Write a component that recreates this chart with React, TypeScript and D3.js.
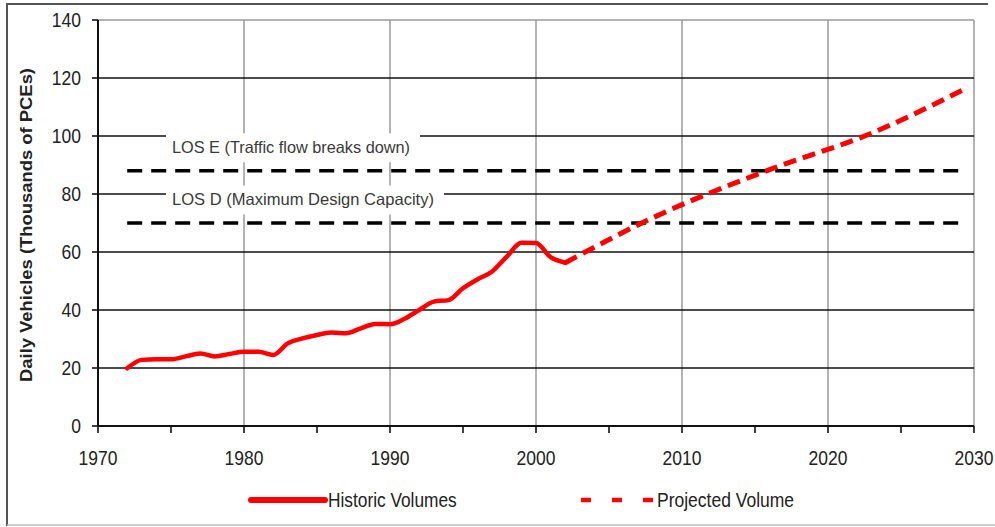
import React from 'react';
import * as d3 from 'd3';

const histYears = [1972, 1973, 1974, 1975, 1976, 1977, 1978, 1979, 1980, 1981, 1982, 1983, 1984, 1985, 1986, 1987, 1988, 1989, 1990, 1991, 1992, 1993, 1994, 1995, 1996, 1997, 1998, 1999, 2000, 2001, 2002];
const histValues = [19.9, 22.8, 23, 23, 24, 25, 24, 24.8, 25.6, 25.6, 24.5, 28.5, 30.2, 31.4, 32.2, 32, 33.7, 35.2, 35.1, 37, 40, 42.9, 43.4, 47.5, 50.6, 53.3, 58.4, 63.2, 63.1, 58.2, 56.3];
const projYears = [2002, 2008, 2016, 2023, 2029.6];
const projValues = [56.3, 71.8, 88.4, 101, 116.8];

const losLevels = [88, 70];
const losStart = [1972, 1972];
const losEnd = [2029.2, 2029.2];
const losLabels = ['LOS E (Traffic flow breaks down)', 'LOS D (Maximum Design Capacity)'];

const xTicks = [1970, 1980, 1990, 2000, 2010, 2020, 2030];
const xMinorTicks = [1970, 1975, 1980, 1985, 1990, 1995, 2000, 2005, 2010, 2015, 2020, 2025, 2030];
const yTicks = [0, 20, 40, 60, 80, 100, 120, 140];

const legendLabels = ['Historic Volumes', 'Projected Volume'];

const FONT = '"Liberation Sans", Arial, Helvetica, sans-serif';

export default function App() {
  const x = d3.scaleLinear().domain([1970, 2030]).range([98, 974]);
  const y = d3.scaleLinear().domain([0, 140]).range([426, 20]);

  const histLine = d3.line<number>()
    .x((_, i) => x(histYears[i]))
    .y((d) => y(d))
    .curve(d3.curveMonotoneX);
  const projLine = d3.line<number>()
    .x((_, i) => x(projYears[i]))
    .y((d) => y(d))
    .curve(d3.curveMonotoneX);

  const labelW = [244, 268];
  const legendDashes = [581, 612, 643];

  return (
    <div style={{ position: 'fixed', left: 0, top: 0 }}>
      <svg width={995} height={527} style={{ display: 'block', background: '#fff' }}>
        {/* outer frame */}
        <line x1={7} y1={4} x2={988} y2={4} stroke="#555" strokeWidth={2} />
        <line x1={7} y1={3} x2={7} y2={526} stroke="#555" strokeWidth={2} />
        <line x1={7} y1={525} x2={995} y2={525} stroke="#bbb" strokeWidth={1.5} />

        {/* vertical gridlines */}
        {xTicks.slice(1).map((t) => (
          <line key={'vg' + t} x1={x(t)} x2={x(t)} y1={y(140)} y2={y(0)} stroke="#9a9a9a" strokeWidth={1.5} />
        ))}
        {/* horizontal gridlines */}
        {yTicks.slice(1).map((t) => (
          <line key={'hg' + t} x1={x(1970)} x2={x(2030)} y1={y(t)} y2={y(t)}
            stroke={t === 140 ? '#9a9a9a' : '#111'} strokeWidth={t === 140 ? 1.5 : 1.6} />
        ))}
        {/* y ticks */}
        {yTicks.map((t) => (
          <line key={'yt' + t} x1={92} x2={x(1970)} y1={y(t)} y2={y(t)} stroke="#111" strokeWidth={1.6} />
        ))}
        {/* axes */}
        <line x1={x(1970)} x2={x(1970)} y1={y(140)} y2={y(0)} stroke="#111" strokeWidth={2} />
        <line x1={x(1970)} x2={x(2030)} y1={y(0)} y2={y(0)} stroke="#111" strokeWidth={2} />
        {xMinorTicks.map((t) => (
          <line key={'xt' + t} x1={x(t)} x2={x(t)} y1={y(0)} y2={y(0) + 7} stroke="#111" strokeWidth={1.6} />
        ))}

        {/* y tick labels */}
        {yTicks.map((t) => (
          <text key={'yl' + t} transform={`translate(81,${y(t)}) scale(1,1.18)`} dy="0.35em"
            textAnchor="end" fontFamily={FONT} fontSize={17.5} fill="#222">{t}</text>
        ))}
        {/* x tick labels */}
        {xTicks.map((t) => (
          <text key={'xl' + t} transform={`translate(${x(t)},${458}) scale(1,1.18)`} dy="0.35em"
            textAnchor="middle" fontFamily={FONT} fontSize={17.5} fill="#222">{t}</text>
        ))}

        {/* y axis title */}
        <text transform={`translate(26,225) rotate(-90)`} dy="0.35em" textAnchor="middle"
          fontFamily={FONT} fontSize={16} fontWeight="bold" fill="#222"
          textLength={314} lengthAdjust="spacingAndGlyphs">Daily Vehicles (Thousands of PCEs)</text>

        {/* LOS label boxes and labels */}
        {losLevels.map((lv, i) => {
          const cy = y(lv) - 23.5;
          return (
            <g key={'lbl' + i}>
              <rect x={166} y={cy - 14} width={labelW[i] + 10} height={29} fill="#fff" />
              <text x={172} y={cy} dy="0.35em" fontFamily={FONT} fontSize={16.5} fill="#3a3a3a"
                textLength={i === 0 ? 238 : 262} lengthAdjust="spacingAndGlyphs">{losLabels[i]}</text>
            </g>
          );
        })}

        {/* LOS dashed lines */}
        {losLevels.map((lv, i) => (
          <line key={'los' + i} x1={x(losStart[i])} x2={x(losEnd[i])} y1={y(lv)} y2={y(lv)}
            stroke="#000" strokeWidth={3.5} strokeDasharray="15 9" />
        ))}

        {/* data */}
        <path d={histLine(histValues) || ''} fill="none" stroke="#ff0000" strokeWidth={4.5}
          strokeLinejoin="round" strokeLinecap="round" />
        <path d={projLine(projValues) || ''} fill="none" stroke="#ff0000" strokeWidth={5}
          strokeDasharray="13 7" />

        {/* legend */}
        <line x1={251} x2={325} y1={500} y2={500} stroke="#ff0000" strokeWidth={6} strokeLinecap="round" />
        <text transform="translate(328,500) scale(1,1.15)" dy="0.35em" fontFamily={FONT} fontSize={17.3} fill="#222">{legendLabels[0]}</text>
        {legendDashes.map((dx) => (
          <line key={'ld' + dx} x1={dx} x2={dx + 10} y1={500} y2={500} stroke="#ff0000" strokeWidth={4.5} />
        ))}
        <text transform="translate(657,500) scale(1,1.15)" dy="0.35em" fontFamily={FONT} fontSize={17.5} fill="#222">{legendLabels[1]}</text>
      </svg>
    </div>
  );
}
